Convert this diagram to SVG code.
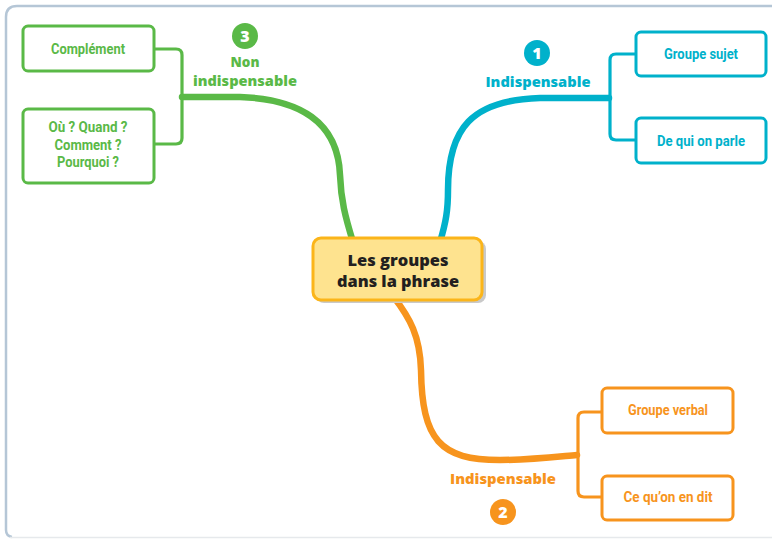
<svg xmlns="http://www.w3.org/2000/svg" width="772" height="539" viewBox="0 0 772 539">
<style>
.frame{fill:none;stroke:#b5c6d6;stroke-width:2.5}
.br{fill:none;stroke-width:6.5;stroke-linecap:round}
.bk{fill:none;stroke-width:3.2;stroke-linejoin:round}
.box{fill:#fff;stroke-width:3}
.g{stroke:#5ab947}.b{stroke:#00b1cb}.o{stroke:#f7941d}
.tg{fill:#5ab947}.tb{fill:#00b1cb}.to{fill:#f7941d}
.bt{font-family:Roboto,"Liberation Sans",sans-serif;font-weight:bold;font-size:14px;text-anchor:middle}
.lab{font-family:"Open Sans","Liberation Sans",sans-serif;font-weight:800;font-size:13.5px;text-anchor:middle}
.num{font-family:"Open Sans","Liberation Sans",sans-serif;font-weight:800;font-size:16px;text-anchor:middle;fill:#fff}
.ct{font-family:"Open Sans","Liberation Sans",sans-serif;font-weight:800;font-size:16px;text-anchor:middle;fill:#231f20}
</style>
<rect width="772" height="539" fill="#fff"/>
<path class="frame" d="M772 6 L17 6 Q6 6 6 17 L6 530 Q6 536 12 537"/>
<line x1="10" y1="537.5" x2="772" y2="537.5" stroke="#e6e9ec" stroke-width="1.5"/>
<g id="connectors">
<path class="br g" d="M353 242 C345 216 341 200 340 175 C338 122 300 99 240 97 L182 97"/>
<path class="br b" d="M440 242 C446 222 448 210 448 190 C448 128 472 100 540 98 L609 98"/>
<path class="br o" d="M393 296 C410 318 420 336 421 370 C422 440 440 460 500 460 C530 460 555 457 577 455"/>
<path class="bk g" d="M155 49 L176 49 Q182 49 182 55 L182 138 Q182 144 176 144 L155 144"/>
<path class="bk b" d="M635 54 L616 54 Q610 54 610 60 L610 134 Q610 140 616 140 L635 140"/>
<path class="bk o" d="M602 412 L584 412 Q578 412 578 418 L578 491 Q578 497 584 497 L602 497"/>
</g>
<g id="center">
<rect x="316" y="241" width="170" height="62" rx="8" fill="#c9c9c9"/>
<rect x="313" y="238" width="169" height="62" rx="8" fill="#fee38f" stroke="#fbb51a" stroke-width="3"/>
<text class="ct" x="398" y="266" textLength="101" lengthAdjust="spacingAndGlyphs">Les groupes</text>
<text class="ct" x="398" y="287" textLength="122" lengthAdjust="spacingAndGlyphs">dans la phrase</text>
</g>
<g id="label3">
<circle cx="245" cy="36" r="13" fill="#5ab947"/>
<text class="num" x="245" y="42">3</text>
<text class="lab tg" x="245" y="67">Non</text>
<text class="lab tg" x="245" y="86" textLength="104" lengthAdjust="spacingAndGlyphs">indispensable</text>
</g>
<g id="label1">
<circle cx="537" cy="53" r="13" fill="#00b1cb"/>
<text class="num" x="537" y="59">1</text>
<text class="lab tb" x="538" y="87" textLength="105" lengthAdjust="spacingAndGlyphs">Indispensable</text>
</g>
<g id="label2">
<text class="lab to" x="503" y="484" textLength="106" lengthAdjust="spacingAndGlyphs">Indispensable</text>
<circle cx="503" cy="512" r="13" fill="#f7941d"/>
<text class="num" x="503" y="518">2</text>
</g>
<g id="complement">
<rect class="box g" x="23" y="26" width="131" height="45" rx="5"/>
<text class="bt tg" x="88" y="54" textLength="74" lengthAdjust="spacingAndGlyphs">Complément</text>
</g>
<g id="questions">
<rect class="box g" x="23" y="109" width="131" height="74" rx="5"/>
<text class="bt tg" x="88" y="132" textLength="79" lengthAdjust="spacingAndGlyphs">Où ? Quand ?</text>
<text class="bt tg" x="88" y="150" textLength="67" lengthAdjust="spacingAndGlyphs">Comment ?</text>
<text class="bt tg" x="88" y="167" textLength="62" lengthAdjust="spacingAndGlyphs">Pourquoi ?</text>
</g>
<g id="groupe-sujet">
<rect class="box b" x="636" y="32" width="130" height="44" rx="5"/>
<text class="bt tb" x="701" y="59" textLength="74" lengthAdjust="spacingAndGlyphs">Groupe sujet</text>
</g>
<g id="de-qui">
<rect class="box b" x="636" y="118" width="130" height="45" rx="5"/>
<text class="bt tb" x="701" y="146" textLength="88" lengthAdjust="spacingAndGlyphs">De qui on parle</text>
</g>
<g id="groupe-verbal">
<rect class="box o" x="602" y="388" width="131" height="45" rx="5"/>
<text class="bt to" x="668" y="415" textLength="80" lengthAdjust="spacingAndGlyphs">Groupe verbal</text>
</g>
<g id="ce-quon">
<rect class="box o" x="602" y="476" width="131" height="44" rx="5"/>
<text class="bt to" x="668" y="502" textLength="89" lengthAdjust="spacingAndGlyphs">Ce qu’on en dit</text>
</g>
</svg>
